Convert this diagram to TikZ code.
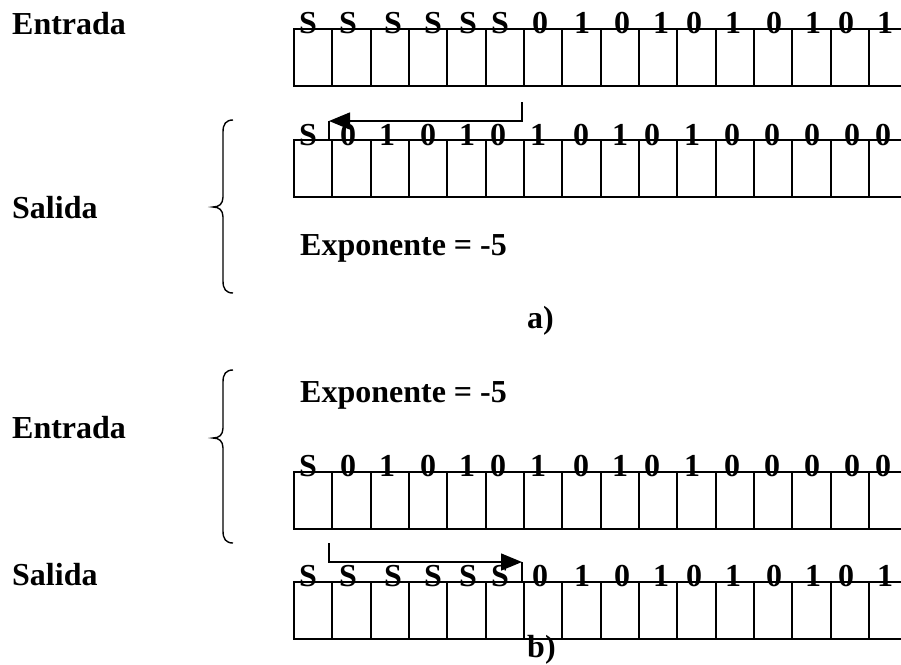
\documentclass[tikz,border=0pt]{standalone}
\usepackage{fontspec}
\setmainfont{Liberation Serif}
\usetikzlibrary{arrows.meta}
\tikzset{
  cell/.style={draw, line width=1.9pt, minimum width=38.33pt, minimum height=57pt, inner sep=0pt, outer sep=0pt, anchor=north west},
  bit/.style={font=\fontsize{32}{38}\selectfont\bfseries, inner sep=0pt, anchor=base},
  lbl/.style={font=\fontsize{32}{38}\selectfont\bfseries, inner sep=0pt, anchor=base west},
  shift arrow/.style={line width=1.5pt, -{Triangle[length=21pt,width=17pt]}},
  tick/.style={line width=1.5pt},
  llave/.style={line width=1.4pt},
}
\newcommand{\bitsS}{308/S,348/S,393/S,433/S,468/S,500/S,540/0,582/1,622/0,661/1,694/0,733/1,774/0,813/1,846/0,885/1}
\newcommand{\bitsN}{308/S,348/0,387/1,428/0,467/1,498/0,538/1,581/0,620/1,652/0,692/1,732/0,772/0,812/0,852/0,883/0}
% brace: top, tip, bottom
\newcommand{\llave}[3]{\draw[llave] (233,#1) .. controls (226,#1) and (223,#1+4) .. (223,#1+12) -- (223,#2-10) .. controls (223,#2-3) and (219,#2) .. (213,#2) .. controls (219,#2) and (223,#2+3) .. (223,#2+10) -- (223,#3-12) .. controls (223,#3-4) and (226,#3) .. (233,#3);}

\begin{document}
\begin{tikzpicture}[x=1pt, y=-1pt]
  \useasboundingbox (0,0) rectangle (901,664);
  \clip (0,0) rectangle (901,664);
  % rows of cells
  \foreach \r/\y in {1/29, 2/140, 3/472, 4/582}
    \foreach \k in {0,...,15}
      \node[cell] (r\r-\k) at ({294+38.33*\k}, \y) {};
  % bits over the cells
  \foreach \x/\b [count=\i] in \bitsS {
    \node[bit] (ba\i) at (\x, 33) {\b};
    \node[bit] (bd\i) at (\x, 586) {\b};
  }
  \foreach \x/\b [count=\i] in \bitsN {
    \node[bit] (bb\i) at (\x, 145) {\b};
    \node[bit] (bc\i) at (\x, 476) {\b};
  }
  % a)
  \node[lbl] (entA) at (12, 34) {Entrada};
  \node[lbl] (salA) at (12, 218) {Salida};
  \node[lbl] (expA) at (300, 255) {Exponente = -5};
  \node[lbl] (capA) at (527, 328) {a)};
  \llave{120}{207}{293}
  \coordinate (pa) at (522, 102);
  \coordinate (qa) at (329, 121);
  \draw[shift arrow] (pa) |- (qa);
  \draw[tick] (qa) -- (qa |- r2-0.north);
  % b)
  \node[lbl] (expB) at (300, 402) {Exponente = -5};
  \node[lbl] (entB) at (12, 438) {Entrada};
  \node[lbl] (salB) at (12, 585) {Salida};
  \node[lbl] (capB) at (527, 657) {b)};
  \llave{370}{438}{543}
  \coordinate (pb) at (329, 543);
  \coordinate (qb) at (522, 562);
  \draw[shift arrow] (pb) |- (qb);
  \draw[tick] (qb) -- (qb |- r4-0.north);
\end{tikzpicture}
\end{document}
